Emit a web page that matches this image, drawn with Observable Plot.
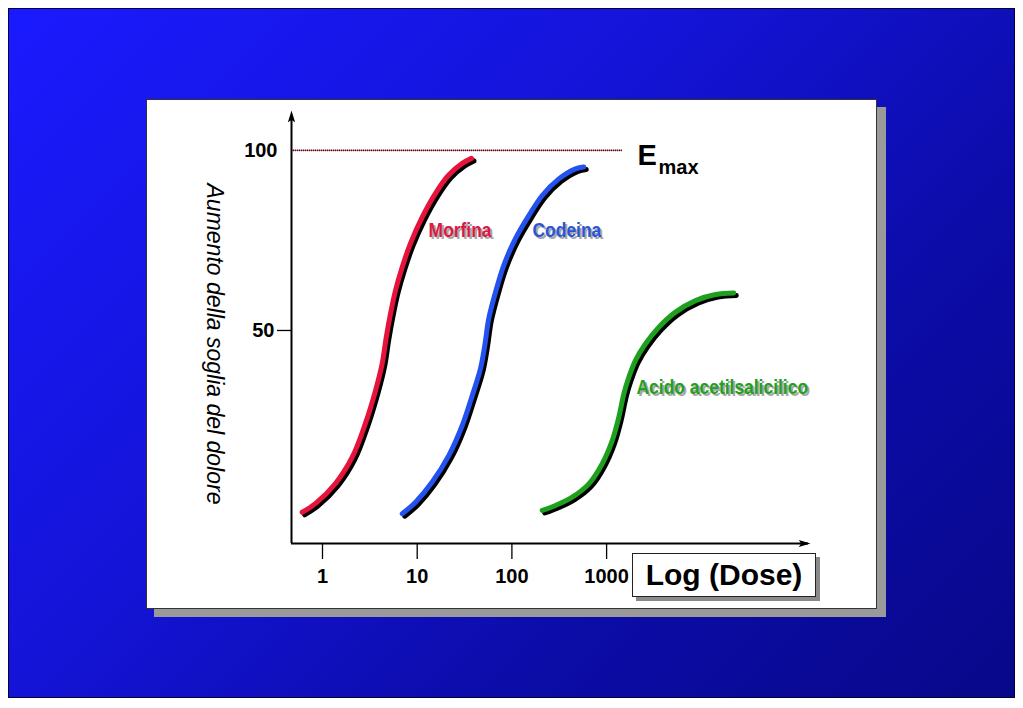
<!DOCTYPE html>
<html>
<head>
<meta charset="utf-8">
<script src="https://cdn.jsdelivr.net/npm/d3@7"></script>
<script src="https://cdn.jsdelivr.net/npm/@observablehq/plot@0.6"></script>
<style>
  html, body { margin: 0; padding: 0; background: #fff; }
  #page { position: relative; width: 1023px; height: 708px; overflow: hidden; font-family: "Liberation Sans", Arial, sans-serif; }
  #bg { position: absolute; left: 8px; top: 8px; width: 1007px; height: 690px; box-sizing: border-box;
        background: linear-gradient(135deg, #1a1aff 0%, #1414d8 40%, #0c0ca8 70%, #08088a 100%); border: 1px solid #000040; }
  #panelShadow { position: absolute; left: 154px; top: 107px; width: 732px; height: 510px; background: #9a9a9a; }
  #panel { position: absolute; left: 146px; top: 99px; width: 731px; height: 510px; box-sizing: border-box; background: #fff; border: 1px solid #333; }
  #chart { position: absolute; left: 0; top: 0; }
  #xlabel { position: absolute; left: 632px; top: 553px; width: 184px; height: 44px; box-sizing: border-box;
            background: #fff; border: 1.5px solid #222; box-shadow: 4px 4px 0 #8a8a8a;
            font: bold 30px "Liberation Sans", Arial, sans-serif; color: #000; text-align: center; line-height: 41px; }
</style>
</head>
<body>
<div id="page">
  <div id="bg"></div>
  <div id="panelShadow"></div>
  <div id="panel"></div>
  <div id="chart"></div>
  <div id="xlabel">Log (Dose)</div>
</div>
<script>
// ---- data ----
const xTicks = [1, 10, 100, 1000];
const yTickLow = [50];
const yTickHigh = [100];
const xDomain = [0.4707, 142200];
const yDomain = [-9.17, 111.1];
const emaxLevel = [100];
const emaxEndDose = 1470;
const emaxLabelDose = 2120;

const drugs = ["Morfina", "Codeina", "Acido acetilsalicilico"];
const drugColors = ["#e6143c", "#2352ee", "#1ea01e"];
const labelColors = ["#d81b45", "#2b55d6", "#22a022"];
const labelDose = [13.2, 165, 2070];
const labelEffect = [77.9, 77.9, 34.2];

const morfinaDose   = [0.61, 0.84, 1.37, 2.06, 2.84, 3.63, 4.27, 4.71, 5.23, 5.90, 6.95, 8.49, 11.3, 15.6, 21.4, 29.9, 37.4];
const morfinaEffect = [-0.5, 1.9, 7.5, 14.8, 24.2, 33.3, 40.8, 48.1, 54.7, 61.1, 67.6, 74.2, 81.5, 88.1, 93.1, 96.4, 97.8];

const codeinaDose   = [6.95, 9.60, 14.4, 21.6, 29.9, 38.1, 46.6, 51.7, 57.0, 67.1, 82.1, 109, 151, 209, 313, 470, 574];
const codeinaEffect = [-0.9, 2.3, 7.9, 15.3, 23.6, 31.9, 39.4, 45.8, 53.3, 60.6, 68.1, 75.5, 81.9, 87.5, 92.1, 94.9, 95.4];

const acidoDose   = [209, 289, 433, 649, 899, 1146, 1345, 1520, 1716, 2019, 2575, 3559, 5341, 8690, 14130, 22030];
const acidoEffect = [0.0, 1.4, 3.7, 7.4, 13.0, 19.4, 25.9, 32.4, 37.0, 41.7, 46.3, 50.9, 55.1, 58.3, 60.0, 60.4];

const yLabel = "Aumento della soglia del dolore";
const emaxMain = "E";
const emaxSub = "max";

// ---- build tables ----
const series = [
  [drugs[0], morfinaDose, morfinaEffect],
  [drugs[1], codeinaDose, codeinaEffect],
  [drugs[2], acidoDose, acidoEffect]
];
const curves = series.flatMap(([drug, xs, ys]) => xs.map((x, i) => ({drug, dose: x, effect: ys[i]})));
const labels = drugs.map((d, i) => ({drug: d, dose: labelDose[i], effect: labelEffect[i], color: labelColors[i]}));

const arrowHead = {
  draw(ctx, size) {
    const r = Math.sqrt(size / Math.PI);
    ctx.moveTo(0, 0);
    ctx.lineTo(r * 0.8, r * 2.6);
    ctx.lineTo(0, r * 2.1);
    ctx.lineTo(-r * 0.8, r * 2.6);
    ctx.closePath();
  }
};

const font = "Liberation Sans, Arial, Helvetica, sans-serif";

const chart = Plot.plot({
  width: 1023,
  height: 708,
  marginLeft: 291,
  marginRight: 213,
  marginTop: 110,
  marginBottom: 165,
  x: {type: "log", domain: xDomain},
  y: {domain: yDomain},
  color: {domain: drugs, range: drugColors},
  style: {background: "transparent", fontFamily: font, color: "black", overflow: "visible"},
  marks: [
    // Emax dotted line
    Plot.ruleY(emaxLevel, {x1: xDomain[0], x2: emaxEndDose, stroke: "#e05a72", strokeWidth: 1.2}),
    Plot.ruleY(emaxLevel, {x1: xDomain[0], x2: emaxEndDose, stroke: "#2a1016", strokeWidth: 1.8, strokeDasharray: "1,1", strokeOpacity: 0.85}),
    // axes lines
    Plot.ruleX([xDomain[0]], {y1: yDomain[0], y2: yDomain[1] - 2, stroke: "black", strokeWidth: 2}),
    Plot.ruleY([yDomain[0]], {x1: xDomain[0], x2: xDomain[1] / 1.05, stroke: "black", strokeWidth: 2}),
    Plot.dot([{x: xDomain[0], y: yDomain[1]}], {x: "x", y: "y", symbol: arrowHead, r: 4.5, fill: "black", stroke: "none"}),
    Plot.dot([{x: xDomain[1], y: yDomain[0]}], {x: "x", y: "y", symbol: arrowHead, r: 4.5, fill: "black", stroke: "none", rotate: 90}),
    // ticks
    Plot.axisX(xTicks, {anchor: "bottom", tickSize: 16, tickPadding: 9, fontSize: 20, fontWeight: "bold", tickFormat: d => String(d), label: null, strokeWidth: 1.3}),
    Plot.axisY(yTickLow, {anchor: "left", tickSize: 14, tickPadding: 3, fontSize: 20, fontWeight: "bold", tickFormat: d => String(d), label: null, strokeWidth: 1.3}),
    Plot.axisY(yTickHigh, {anchor: "left", tickSize: 0, tickPadding: 14, fontSize: 20, fontWeight: "bold", tickFormat: d => String(d), label: null}),
    // y label
    Plot.text([yLabel], {frameAnchor: "left", textAnchor: "middle", dx: -77.5, dy: 17, rotate: 90, fontSize: 23, fontStyle: "italic", fill: "black"}),
    // curves: shadow then colour
    Plot.line(curves, {x: "dose", y: "effect", z: "drug", stroke: "black", strokeWidth: 5, dx: 2.5, dy: 2.5, curve: "catmull-rom", strokeLinecap: "round"}),
    Plot.line(curves, {x: "dose", y: "effect", z: "drug", stroke: "drug", strokeWidth: 5, curve: "catmull-rom", strokeLinecap: "round"}),
    // curve labels: shadow then colour
    Plot.text(labels, {x: "dose", y: "effect", text: "drug", textAnchor: "start", fill: "#a8a8a8", dx: 2, dy: 2, fontSize: 21, fontWeight: "bold", className: "narrow"}),
    Plot.text(labels, {x: "dose", y: "effect", text: "drug", textAnchor: "start", fill: "color", fontSize: 21, fontWeight: "bold", className: "narrow"}),
    // Emax label
    Plot.text([emaxMain], {x: emaxLabelDose, y: emaxLevel[0], textAnchor: "start", dy: 5.4, fontSize: 29, fontWeight: "bold", fill: "black"}),
    Plot.text([emaxSub], {x: emaxLabelDose, y: emaxLevel[0], textAnchor: "start", dx: 21, dy: 17, fontSize: 20, fontWeight: "bold", fill: "black"})
  ]
});
document.getElementById("chart").appendChild(chart);

// condense the curve labels (narrow bold face in the original)
chart.querySelectorAll("g.narrow text").forEach(t => {
  const w = t.getComputedTextLength();
  t.setAttribute("textLength", (w * 0.83).toFixed(1));
  t.setAttribute("lengthAdjust", "spacingAndGlyphs");
});
</script>
</body>
</html>
